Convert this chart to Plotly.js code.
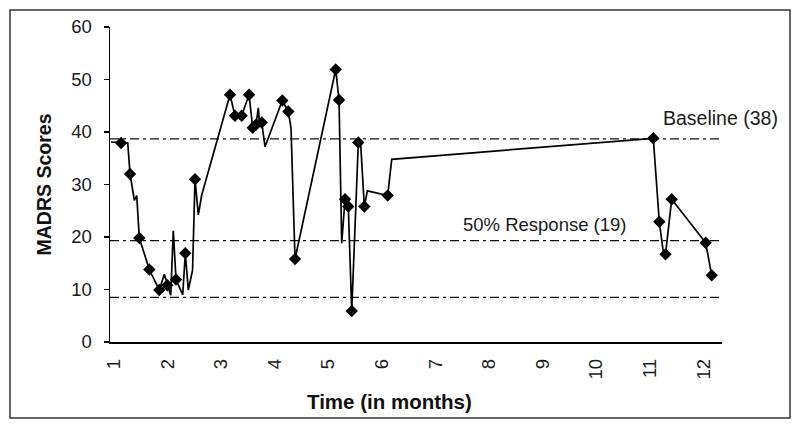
<!DOCTYPE html>
<html>
<head>
<meta charset="utf-8">
<script src="https://cdn.plot.ly/plotly-3.0.1.min.js"></script>
<style>html,body{margin:0;padding:0;background:#fff;}#chart{width:800px;height:429px;}</style>
</head>
<body>
<div id="chart"></div>
<script>
// Time (months) and MADRS score of every vertex of the line
var timeMonths = [0.944, 1.131, 1.256, 1.299, 1.379, 1.424, 1.472, 1.659, 1.845, 1.938,
  1.994, 2.058, 2.106, 2.157, 2.282, 2.330, 2.386, 2.465, 2.511, 2.573,
  2.636, 3.164, 3.257, 3.382, 3.519, 3.588, 3.649, 3.692, 3.715, 3.756,
  3.817, 4.140, 4.252, 4.302, 4.377, 5.136, 5.198, 5.248, 5.310, 5.371,
  5.435, 5.558, 5.603, 5.670, 5.726, 6.106, 6.181, 11.061, 11.173, 11.243,
  11.289, 11.405, 12.039, 12.151];
var madrsScores = [38.1, 37.9, 37.9, 32.0, 27.0, 27.9, 19.8, 13.8, 9.9, 12.9,
  10.8, 8.9, 21.2, 11.9, 9.0, 16.9, 9.9, 13.7, 31.0, 24.2,
  28.0, 47.1, 43.1, 43.1, 47.1, 40.8, 41.4, 44.6, 41.5, 41.8,
  37.2, 46.0, 43.9, 40.8, 15.8, 51.9, 46.1, 18.8, 27.2, 25.8,
  5.9, 38.0, 37.5, 25.8, 28.8, 27.9, 34.8, 38.8, 22.9, 17.5,
  16.7, 27.2, 18.9, 12.7];
// 1 = a diamond marker is drawn at that vertex
var hasMarker = [0, 1, 0, 1, 0, 0, 1, 1, 1, 0,
  1, 0, 0, 1, 0, 1, 0, 0, 1, 0,
  0, 1, 1, 1, 1, 1, 1, 0, 0, 1,
  0, 1, 1, 0, 1, 1, 1, 0, 1, 1,
  1, 1, 0, 1, 0, 1, 0, 1, 1, 0,
  1, 1, 1, 1];
// reference lines
var refLevels = [38.7, 19.3, 8.5];
var refLabels = ['Baseline (38)', '50% Response (19)'];
var xTicks = [1, 2, 3, 4, 5, 6, 7, 8, 9, 10, 11, 12];
var yTicks = [0, 10, 20, 30, 40, 50, 60];

var xMin = 0.925, xMax = 12.343;
var markX = [], markY = [];
for (var i = 0; i < timeMonths.length; i++) {
  if (hasMarker[i]) { markX.push(timeMonths[i]); markY.push(madrsScores[i]); }
}

var traces = [];
refLevels.forEach(function (lv) {
  traces.push({
    x: [xMin, xMax], y: [lv, lv], mode: 'lines', hoverinfo: 'skip', showlegend: false,
    line: {color: '#111', width: 1.3, dash: '9px,4px,3px,4px'}
  });
});
traces.push({
  x: timeMonths, y: madrsScores, mode: 'lines', showlegend: false,
  line: {color: '#000', width: 1.7}
});
traces.push({
  x: markX, y: markY, mode: 'markers', showlegend: false, cliponaxis: false,
  marker: {symbol: 'diamond', size: 9.5, color: '#000'}
});

var fontFam = 'Liberation Sans, Arial, sans-serif';
var layout = {
  width: 800, height: 429,
  margin: {l: 110, r: 78, t: 27, b: 87},
  paper_bgcolor: '#fff', plot_bgcolor: '#fff',
  font: {family: fontFam, color: '#1a1a1a', size: 18},
  showlegend: false,
  xaxis: {
    range: [xMin, xMax], tickvals: xTicks, ticktext: xTicks.map(String),
    tickangle: -90, showgrid: false, zeroline: false,
    showline: true, linecolor: '#000', linewidth: 1.5,
    ticks: '', ticklabelstandoff: 8,
    tickfont: {family: fontFam, size: 18.5, color: '#1a1a1a'}
  },
  yaxis: {
    range: [0, 60], tickvals: yTicks, showgrid: false, zeroline: false,
    showline: true, linecolor: '#000', linewidth: 1.5,
    ticks: 'outside', ticklen: 5, tickcolor: '#000', tickwidth: 1.2,
    ticklabelstandoff: 8,
    tickfont: {family: fontFam, size: 18.5, color: '#1a1a1a'},
    title: {text: '<b>MADRS Scores</b>', font: {family: fontFam, size: 19.5, color: '#111'}, standoff: 14}
  },
  annotations: [
    {xref: 'x', yref: 'y', x: 11.2, y: 42.6, xanchor: 'left', yanchor: 'middle',
     text: refLabels[0], showarrow: false, font: {family: fontFam, size: 19.5, color: '#1a1a1a'}},
    {xref: 'x', yref: 'y', x: 7.47, y: 22.4, xanchor: 'left', yanchor: 'middle',
     text: refLabels[1], showarrow: false, font: {family: fontFam, size: 18.5, color: '#1a1a1a'}},
    {xref: 'paper', yref: 'paper', x: (389 - 110) / 612, y: (342 - 401) / 315,
     xanchor: 'center', yanchor: 'middle', text: '<b>Time (in months)</b>', showarrow: false,
     font: {family: fontFam, size: 20.5, color: '#111'}}
  ],
  shapes: [
    {type: 'rect', xref: 'paper', yref: 'paper',
     x0: (10 - 110) / 612, x1: (790 - 110) / 612, y0: (342 - 418) / 315, y1: (342 - 10) / 315,
     line: {color: '#333', width: 1.5}, fillcolor: 'rgba(0,0,0,0)'}
  ]
};
Plotly.newPlot('chart', traces, layout, {displayModeBar: false, staticPlot: true});
</script>
</body>
</html>
